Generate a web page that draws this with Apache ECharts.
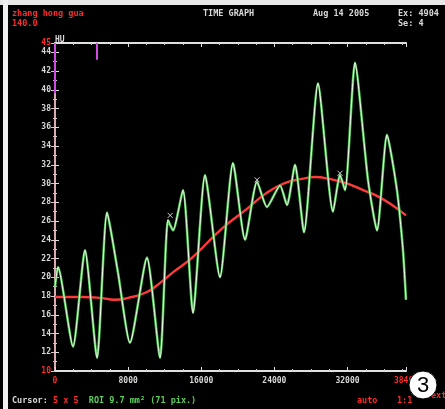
<!DOCTYPE html>
<html><head><meta charset="utf-8">
<script src="https://cdn.jsdelivr.net/npm/echarts@6/dist/echarts.min.js"></script>
<style>html,body{margin:0;padding:0;background:#000}#c{width:445px;height:409px}</style>
</head><body><div id="c"></div>
<script>
// ---- data ----
var xTicks = [0, 8000, 16000, 24000, 32000, 38400];
var yTicks = [10, 12, 14, 16, 18, 20, 22, 24, 26, 28, 30, 32, 34, 36, 38, 40, 42, 44, 45];
var greenX = [0,330,1970,3280,4600,5690,6890,8200,10060,11490,12360,12910,14000,15100,16410,18050,19470,20790,22100,23190,24620,25380,26260,27240,28770,30410,31180,31730,32820,34240,35230,36320,37410,38070,38400];
var greenY = [19.0,21.1,12.6,22.9,11.4,26.9,20.5,13.0,22.1,11.4,26.1,25.0,29.3,16.2,30.9,20.0,32.2,24.0,30.2,27.5,29.8,27.7,32.0,24.8,40.7,27.0,30.9,29.3,42.9,30.4,25.0,35.2,29.3,22.9,17.6];
var redX = [0,3000,5000,6500,8000,10000,11500,13000,15000,17500,19000,21000,23000,25000,27000,28500,30000,32000,33700,35000,36600,38400];
var redY = [17.9,17.9,17.8,17.6,17.8,18.4,19.4,20.6,22.1,24.5,25.8,27.3,28.9,30.0,30.5,30.7,30.5,30.0,29.3,28.8,27.9,26.6];
var markerX = [12600, 22100, 31180];
var markerY = [26.6, 30.4, 31.1];
var cursorX = [0, 4600];
var cursorTop = [45, 45];
var cursorBottom = [39.6, 43.2];

function pairs(xs, ys){ return xs.map(function(x,i){ return [x, ys[i]]; }); }

var chart = echarts.init(document.getElementById('c'), null, {renderer:'canvas'});
var FONT = 'DejaVu Sans Mono';
var lblColor = '#d8d8d8';

var option = {
  backgroundColor: '#000',
  animation: false,
  grid: {left: 55, top: 43, right: 39, bottom: 38},
  xAxis: [{
    type: 'value', position: 'bottom', min: xTicks[0], max: xTicks[xTicks.length-1], interval: 8000,
    axisLine: {lineStyle: {color: '#e0e0e0', width: 2}},
    axisTick: {inside: true, length: 4, lineStyle: {color: '#e0e0e0'}},
    minorTick: {show: true, splitNumber: 4, length: 2, lineStyle: {color: '#cfcfcf'}},
    splitLine: {show: false},
    axisLabel: {show: true, margin: 6, fontFamily: FONT, fontSize: 8, fontWeight: 'bold', color: lblColor,
      showMinLabel: true, showMaxLabel: true,
      formatter: function(v){ return (v === xTicks[0] || v === xTicks[xTicks.length-1]) ? '{r|' + v + '}' : '' + v; },
      rich: {r: {color: '#ff2a2a', fontFamily: FONT, fontSize: 8, fontWeight: 'bold'}}}
  }, {
    type: 'value', position: 'top', min: xTicks[0], max: xTicks[xTicks.length-1], interval: 8000,
    axisLine: {lineStyle: {color: '#e0e0e0', width: 2}},
    axisTick: {inside: true, length: 4, lineStyle: {color: '#e0e0e0'}},
    minorTick: {show: true, splitNumber: 4, length: 2, lineStyle: {color: '#cfcfcf'}},
    splitLine: {show: false}, axisLabel: {show: false}
  }],
  yAxis: [{
    type: 'value', position: 'left', min: 10, max: 45, interval: 2,
    axisLine: {show: true, lineStyle: {color: '#e8e8e8', width: 2}},
    axisTick: {show: true, inside: true, length: 4, lineStyle: {color: '#e0e0e0'}},
    minorTick: {show: true, splitNumber: 2, length: 2, lineStyle: {color: '#cfcfcf'}},
    splitLine: {show: false},
    axisLabel: {show: true, margin: 4, fontFamily: FONT, fontSize: 8, fontWeight: 'bold', color: lblColor,
      showMinLabel: true, showMaxLabel: true,
      formatter: function(v){ return (v === 10 || v === 45) ? '{r|' + v + '}' : '' + v; },
      rich: {r: {color: '#ff2a2a', fontFamily: FONT, fontSize: 8, fontWeight: 'bold'}}}
  }, {
    type: 'value', position: 'right', min: 10, max: 45, interval: 2,
    axisLine: {show: true, lineStyle: {color: '#d9a9b2', width: 2}},
    axisTick: {show: true, inside: true, length: 4, lineStyle: {color: '#e0c0c8'}},
    minorTick: {show: true, splitNumber: 2, length: 2, lineStyle: {color: '#d0b0b8'}},
    splitLine: {show: false}, axisLabel: {show: false}
  }],
  series: [{
    name: 'fit', type: 'line', xAxisIndex: 0, yAxisIndex: 0,
    data: pairs(redX, redY), smooth: 0.5, showSymbol: false,
    lineStyle: {color: '#ff3a3a', width: 2.4}, z: 2
  }, {
    name: 'curveGlow', type: 'line', xAxisIndex: 0, yAxisIndex: 0,
    data: pairs(greenX, greenY), smooth: 0.2, showSymbol: false,
    lineStyle: {color: '#44b84a', width: 2.6}, z: 3
  }, {
    name: 'curve', type: 'line', xAxisIndex: 0, yAxisIndex: 0,
    data: pairs(greenX, greenY), smooth: 0.2, showSymbol: false,
    lineStyle: {color: '#eefbe8', width: 1}, z: 4,
    markLine: {
      silent: true, symbol: ['none', 'none'], label: {show: false},
      lineStyle: {color: '#d24ae6', width: 2, type: 'solid'},
      data: cursorX.map(function(x, i){ return [{coord: [x, cursorTop[i]]}, {coord: [x, cursorBottom[i]]}]; })
    }
  }, {
    name: 'markers', type: 'scatter', xAxisIndex: 0, yAxisIndex: 0,
    data: pairs(markerX, markerY), symbol: 'path://M0,0L10,10M10,0L0,10', symbolSize: 5,
    itemStyle: {color: 'none', borderColor: '#ffffff', borderWidth: 1}, z: 5
  }],
  graphic: [
    {type: 'rect', left: 0, top: 0, shape: {width: 445, height: 5}, style: {fill: '#e8e8e8'}, z: 10},
    {type: 'rect', left: 3, top: 0, shape: {width: 5, height: 409}, style: {fill: '#f0f0f0'}, z: 10},
    {type: 'text', left: 12, top: 9, style: {text: 'zhang hong gua', fill: '#ff2a2a', font: 'bold 8.5px ' + FONT}, z: 10},
    {type: 'text', left: 12, top: 19, style: {text: '140.0', fill: '#ff2a2a', font: 'bold 8.5px ' + FONT}, z: 10},
    {type: 'text', left: 203, top: 9, style: {text: 'TIME GRAPH', fill: '#d8d8d8', font: 'bold 8.5px ' + FONT}, z: 10},
    {type: 'text', left: 313, top: 9, style: {text: 'Aug 14 2005', fill: '#d8d8d8', font: 'bold 8.5px ' + FONT}, z: 10},
    {type: 'text', left: 398, top: 9, style: {text: 'Ex: 4904', fill: '#d8d8d8', font: 'bold 8.5px ' + FONT}, z: 10},
    {type: 'text', left: 398, top: 19, style: {text: 'Se: 4', fill: '#d8d8d8', font: 'bold 8.5px ' + FONT}, z: 10},
    {type: 'text', left: 55, top: 36, style: {text: 'HU', fill: '#d8d8d8', font: 'bold 8px ' + FONT}, z: 10},
    {type: 'text', left: 12, top: 396, style: {
      rich: {w: {fill: '#d8d8d8', font: 'bold 8.5px ' + FONT}, r: {fill: '#ff2a2a', font: 'bold 8.5px ' + FONT}, g: {fill: '#5ccf5c', font: 'bold 8.5px ' + FONT}},
      text: '{w|Cursor: }{r|5 x 5}{w|  }{g|ROI 9.7 mm² (71 pix.)}'}, z: 10},
    {type: 'text', left: 357, top: 396, style: {text: 'auto', fill: '#ff2a2a', font: 'bold 8.5px ' + FONT}, z: 10},
    {type: 'text', left: 397, top: 396, style: {text: '1:1', fill: '#ff2a2a', font: 'bold 8.5px ' + FONT}, z: 10},
    {type: 'text', left: 431, top: 391, style: {text: 'ext', fill: '#ff2a2a', font: 'bold 8.5px ' + FONT}, z: 10},
    {type: 'circle', shape: {cx: 423, cy: 385, r: 14}, style: {fill: '#ffffff', stroke: '#000', lineWidth: 1}, z: 20},
    {type: 'text', x: 423, y: 386, style: {text: '3', fill: '#000', font: '22px "Liberation Sans"', align: 'center', verticalAlign: 'middle'}, z: 21}
  ]
};
chart.setOption(option);
</script></body></html>
